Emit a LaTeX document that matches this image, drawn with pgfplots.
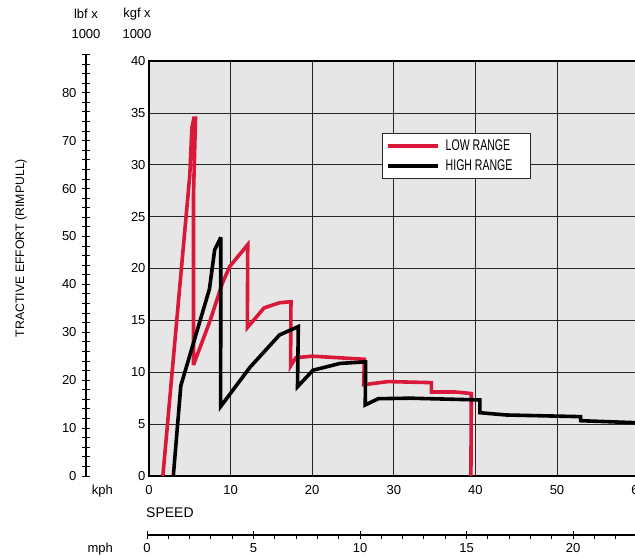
\documentclass[border=0pt]{standalone}
\usepackage{pgfplots}
\pgfplotsset{compat=1.18}
\usepackage{fontspec}
\setmainfont{Liberation Sans}
\usepackage{graphicx}
\definecolor{lowred}{RGB}{218,24,58}
\definecolor{bggray}{RGB}{230,230,230}
\newcommand{\lab}{\fontsize{13}{15}\selectfont}
\begin{document}
\begin{tikzpicture}[x=1pt,y=1pt]
% lbf axis
\begin{axis}[
  at={(86pt,-476pt)}, anchor=south west,
  scale only axis, width=1pt, height=421.5pt,
  xmin=0, xmax=1, ymin=0, ymax=88,
  axis x line=none, axis y line=left,
  axis line style={-, line width=1.1pt, black},
  ytick={0,10,...,80}, minor ytick={0,2,...,88},
  tick align=center, major tick length=8pt, minor tick length=8pt,
  every tick/.style={black, line width=1pt},
  tick label style={font=\lab},
  yticklabel style={xshift=-2pt},
  /pgf/number format/assume math mode=true,
]
\addplot[draw=none] coordinates {(0,0) (1,88)};
\end{axis}
% mph axis
\begin{axis}[
  at={(147pt,-535pt)}, anchor=south west,
  scale only axis, width=496.3pt, height=1pt,
  xmin=0, xmax=23.3, ymin=0, ymax=1,
  axis y line=none, axis x line=bottom,
  axis line style={-, line width=1.1pt, black},
  xtick={0,5,...,20}, minor xtick={0,1,...,23},
  tick align=center, major tick length=8pt, minor tick length=4.4pt,
  every tick/.style={black, line width=1pt},
  minor tick style={yshift=-2.2pt},
  tick label style={font=\lab},
  xticklabel style={yshift=-1pt},
  /pgf/number format/assume math mode=true,
]
\addplot[draw=none] coordinates {(0,0) (1,1)};
\end{axis}
% main axis
\begin{axis}[
  at={(149pt,-476pt)}, anchor=south west,
  scale only axis, width=505.9pt, height=415pt,
  xmin=0, xmax=62, ymin=0, ymax=40,
  axis background/.style={fill=bggray},
  axis line style={line width=1.3pt, black},
  grid=major, grid style={black!85, line width=0.7pt},
  xtick={0,10,...,60}, ytick={0,5,...,40},
  major tick length=0pt,
  tick label style={font=\lab},
  xticklabel style={yshift=-6pt},
  /pgf/number format/assume math mode=true,
  legend style={at={(0.46,0.826)}, anchor=north west, fill=white,
    draw=black!85, line width=0.8pt, inner xsep=4pt, inner ysep=4pt,
    row sep=4pt, /tikz/every odd column/.append style={column sep=4pt}},
  legend cell align=left,
  legend image code/.code={\draw[#1] (0pt,0pt) -- (50pt,0pt);},
  line join=miter, miter limit=4,
]
\addplot[lowred, line width=3.6pt] coordinates {
(1.7,0) (3.4,15) (5.0,29) (5.25,33.5) (5.5,34.5) (5.7,34.5) (5.45,27) (5.45,10.7)
(7.5,15) (9.0,18.6) (9.9,20.2) (12.1,22.3) (12.05,14.3) (14.1,16.2) (16.0,16.7)
(17.4,16.8) (17.35,10.6) (18.0,11.4) (20.0,11.55) (26.4,11.25) (26.3,8.8)
(29.3,9.1) (34.6,9.0) (34.6,8.1) (37.5,8.1) (39.5,7.95) (39.45,0)
};
\addlegendentry{\scalebox{0.68}[1]{\fontsize{15.5}{15.5}\selectfont LOW RANGE}\hspace*{12pt}}
\addplot[black, line width=3.6pt] coordinates {
(2.98,0) (3.9,8.7) (7.4,18) (8.05,21.8) (8.8,23.0) (8.78,6.7) (12.4,10.5)
(16.0,13.6) (18.3,14.4) (18.2,8.6) (20.1,10.2) (23.4,10.85) (26.55,11.0)
(26.5,6.85) (28.1,7.45) (32,7.5) (40.55,7.33) (40.55,6.1) (43.8,5.88)
(52.9,5.72) (52.9,5.33) (59.6,5.14) (62,5.1)
};
\addlegendentry{\scalebox{0.68}[1]{\fontsize{15.5}{15.5}\selectfont HIGH RANGE}\hspace*{12pt}}
\end{axis}
\node[font=\lab] at (86,-14) {lbf x};
\node[font=\lab] at (86,-34) {1000};
\node[font=\lab] at (137,-14) {kgf x};
\node[font=\lab] at (137,-34) {1000};
\node[font=\lab, anchor=east, inner sep=0pt] at (113,-491) {kph};
\node[font=\fontsize{14}{16}\selectfont, anchor=west, inner sep=0pt] at (146,-513) {SPEED};
\node[font=\lab, anchor=east, inner sep=0pt] at (113,-549) {mph};
\node[font=\fontsize{12.3}{14}\selectfont, rotate=90] at (21,-248) {TRACTIVE EFFORT (RIMPULL)};
\pgfresetboundingbox
\useasboundingbox (0,0) rectangle (635,-556);
\end{tikzpicture}
\end{document}
